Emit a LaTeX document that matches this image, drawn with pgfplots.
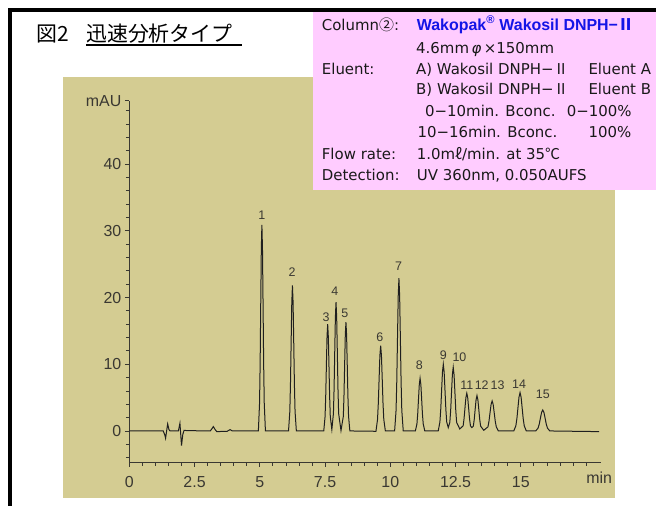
\documentclass[border=0pt]{standalone}
\usepackage{fontspec}
\usepackage{pgfplots}
\pgfplotsset{compat=1.18}
\setmainfont{Liberation Sans}
\newfontfamily\cjk{Noto Sans CJK JP}
\newfontfamily\info{DejaVu Sans}
\definecolor{panel}{RGB}{212,204,146}
\definecolor{infobg}{RGB}{255,204,255}
\definecolor{inkgray}{RGB}{58,56,50}
\definecolor{wakoblue}{RGB}{20,20,230}
\newcommand{\infofont}{\info\fontsize{15}{15}\selectfont}

\begin{document}
\begin{tikzpicture}
\path[use as bounding box] (0,0) rectangle (656bp,-506bp);
\fill[white] (0,0) rectangle (656bp,-506bp);
% chromatogram panel
\fill[panel] (63bp,-77bp) rectangle (615bp,-498bp);

\begin{axis}[
  at={(129.3bp,-462.3bp)}, anchor=south west,
  scale only axis, width=471.4bp, height=361.6bp,
  xmin=0, xmax=18.06, ymin=-4.7, ymax=49.5,
  axis x line*=bottom, axis y line*=left,
  axis line style={inkgray, line width=0.8bp},
  xtick={0,2.5,5,7.5,10,12.5,15},
  xticklabels={0,2.5,5,7.5,10,12.5,15},
  minor xtick={0,0.5,...,17.5},
  ytick={0,10,20,30,40},
  minor ytick={-4,-2,...,48},
  extra y ticks={49.5}, extra y tick labels={mAU},
  extra x ticks={18}, extra x tick labels={min},
  extra x tick style={major tick length=0pt},
  tick align=outside,
  major tick length=4.5bp, minor tick length=3.5bp,
  tick style={inkgray, line width=0.8bp},
  ticklabel style={font=\fontsize{16}{16}\selectfont, text=inkgray},
  xticklabel style={yshift=-6bp},
  /pgf/number format/assume math mode=true,
  clip=false,
]
\addplot[black!88, line width=1bp] coordinates {
  (0,0) (1.30,0) (1.36,-0.6) (1.39,-1.1) (1.43,0) (1.47,1.05) (1.52,0.2) (1.56,0)
  (1.88,0) (1.94,1.15) (1.97,-0.5) (2.0,-2.2) (2.05,-0.5) (2.1,0.1) (2.2,0.05)
  (3.10,0) (3.16,0.3) (3.22,0.65) (3.29,0.2) (3.35,-0.1) (3.75,-0.05) (3.86,0.2) (3.95,0)
  % peak 1
  (4.945,0) (4.99,4.17) (5.0125,10.04) (5.035,18.76) (5.0575,27.25) (5.08,30.9)
  (5.1025,27.25) (5.125,18.76) (5.1475,10.04) (5.17,4.17) (5.215,0)
  % peak 2
  (6.10,0) (6.15,2.94) (6.175,7.09) (6.20,13.23) (6.225,19.23) (6.25,21.8)
  (6.275,19.23) (6.30,13.23) (6.325,7.09) (6.35,2.94) (6.40,0)
  % peaks 3, 4, 5
  (7.45,0) (7.50,2.16) (7.525,5.2) (7.55,9.71) (7.575,14.11) (7.60,16.0)
  (7.625,14.11) (7.65,9.71) (7.675,5.2) (7.70,2.16) (7.76,0.2)
  (7.82,2.61) (7.845,6.27) (7.87,11.72) (7.895,17.02) (7.92,19.3)
  (7.945,17.02) (7.97,11.72) (7.995,6.27) (8.02,2.61) (8.11,0.05)
  (8.20,2.2) (8.225,5.3) (8.25,9.89) (8.275,14.38) (8.30,16.3)
  (8.325,14.38) (8.35,9.89) (8.375,5.3) (8.40,2.2) (8.45,0)
  % peak 6
  (9.45,-0.05) (9.51,1.73) (9.54,4.16) (9.57,7.77) (9.60,11.29) (9.63,12.8)
  (9.66,11.29) (9.69,7.77) (9.72,4.16) (9.75,1.73) (9.81,0)
  % peak 7
  (10.165,0) (10.22,3.09) (10.2475,7.44) (10.275,13.9) (10.3025,20.2) (10.33,22.9)
  (10.3575,20.2) (10.385,13.9) (10.4125,7.44) (10.44,3.09) (10.495,0)
  % peak 8
  (10.96,0) (11.02,1.07) (11.05,2.57) (11.08,4.8) (11.11,6.97) (11.14,7.9)
  (11.17,6.97) (11.20,4.8) (11.23,2.57) (11.26,1.07) (11.32,0)
  % peaks 9, 10
  (11.835,0) (11.90,1.35) (11.9325,3.25) (11.965,6.07) (11.9975,8.82) (12.03,10.0)
  (12.0625,8.82) (12.095,6.07) (12.1275,3.25) (12.16,1.35) (12.22,0.5)
  (12.28,1.29) (12.3125,3.10) (12.345,5.80) (12.3775,8.42) (12.41,9.55)
  (12.4425,8.42) (12.475,5.80) (12.5075,3.10) (12.54,1.29) (12.66,0.3)
  % peaks 11, 12, 13
  (12.79,0.76) (12.825,1.84) (12.86,3.43) (12.895,4.98) (12.93,5.65)
  (12.965,4.98) (13.00,3.43) (13.035,1.84) (13.07,0.76) (13.125,0.5)
  (13.18,0.72) (13.215,1.72) (13.25,3.22) (13.285,4.67) (13.32,5.3)
  (13.355,4.67) (13.39,3.22) (13.425,1.72) (13.46,0.72) (13.58,0.1)
  (13.74,0.61) (13.78,1.46) (13.82,2.73) (13.86,3.97) (13.90,4.5)
  (13.94,3.97) (13.98,2.73) (14.02,1.46) (14.06,0.61) (14.14,0)
  % peak 14
  (14.73,0) (14.81,0.78) (14.85,1.87) (14.89,3.49) (14.93,5.07) (14.97,5.75)
  (15.01,5.07) (15.05,3.49) (15.09,1.87) (15.13,0.78) (15.21,0)
  % peak 15
  (15.57,0) (15.66,0.43) (15.705,1.02) (15.75,1.91) (15.795,2.78) (15.84,3.15)
  (15.885,2.78) (15.93,1.91) (15.975,1.02) (16.02,0.43) (16.11,0)
  (18.0,-0.1)
};
% peak numbers
\begin{scope}[every node/.style={font=\fontsize{12.5}{12.5}\selectfont, text=inkgray, inner sep=0pt}]
\node at (axis cs:5.08,32.4) {1};
\node at (axis cs:6.24,23.8) {2};
\node at (axis cs:7.54,17.1) {3};
\node at (axis cs:7.87,21.0) {4};
\node at (axis cs:8.26,17.6) {5};
\node at (axis cs:9.60,14.1) {6};
\node at (axis cs:10.32,24.7) {7};
\node at (axis cs:11.11,9.9) {8};
\node at (axis cs:12.03,11.4) {9};
\node at (axis cs:12.65,11.0) {10};
\node at (axis cs:12.93,6.9) {11};
\node at (axis cs:13.50,6.9) {12};
\node at (axis cs:14.11,6.9) {13};
\node at (axis cs:14.93,7.0) {14};
\node at (axis cs:15.84,5.5) {15};
\end{scope}
\end{axis}

% conditions box
\fill[infobg] (313bp,-12bp) rectangle (656bp,-189.5bp);
\begin{scope}[every node/.style={anchor=base west, inner sep=0pt, font=\infofont, text=black!90}]
\node at (321.7bp,-30bp) {Column{\cjk ②}:};
\node[text=wakoblue, font=\rmfamily\bfseries\fontsize{16}{16}\selectfont] at (416.7bp,-30bp) {Wakopak\textsuperscript{®} Wakosil DNPH−{\cjk\bfseries Ⅱ}};
\node at (416bp,-53.3bp) {4.6mm\,{\itshape φ}\,×150mm};
\node at (321.7bp,-74bp) {Eluent:};
\node at (416bp,-74bp) {A) Wakosil DNPH−{\cjk Ⅱ}};
\node at (588.3bp,-74bp) {Eluent A};
\node at (416bp,-94bp) {B) Wakosil DNPH−{\cjk Ⅱ}};
\node at (588.3bp,-94bp) {Eluent B};
\node at (425bp,-116.7bp) {0−10min. Bconc.};
\node at (566.7bp,-116.7bp) {0−100\%};
\node at (417.3bp,-137.7bp) {10−16min. Bconc.};
\node at (588.3bp,-137.7bp) {100\%};
\node at (321.7bp,-159.3bp) {Flow rate:};
\node at (416.7bp,-159.3bp) {1.0m{\cjk ℓ}/min. at 35{\cjk ℃}};
\node at (321.7bp,-180bp) {Detection:};
\node at (416.7bp,-180bp) {UV 360nm, 0.050AUFS};
\end{scope}

% title
\node[anchor=base west, inner sep=0pt, font=\cjk\fontsize{21}{21}\selectfont] at (36bp,-41bp) {図2};
\node[anchor=base west, inner sep=0pt, font=\cjk\fontsize{21}{21}\selectfont] at (86bp,-41bp) {迅速分析タイプ};
\draw[line width=1.5bp] (86bp,-44.8bp) -- (242bp,-44.8bp);

% frame
\draw[line width=4.3bp, miter limit=10] (10bp,-506bp) -- (10bp,-10bp) -- (656bp,-10bp);
\end{tikzpicture}
\end{document}
